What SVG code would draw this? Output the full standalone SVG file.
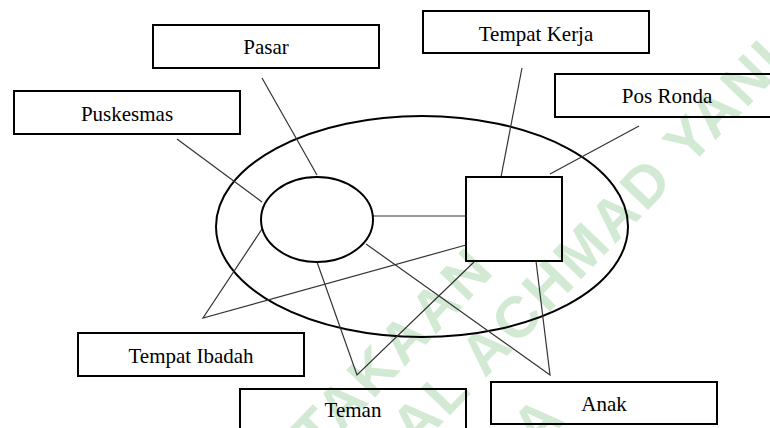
<svg xmlns="http://www.w3.org/2000/svg" width="770" height="428" viewBox="0 0 770 428">
<style>
.box{fill:none;stroke:#000;stroke-width:2}
.shape{fill:none;stroke:#000;stroke-width:2}
.lbl{font-family:"Liberation Serif","Times New Roman","DejaVu Serif",serif;font-size:21px;fill:#000;text-anchor:middle}
.ln{stroke:#333;stroke-width:1.2;fill:none}
.wm{font-family:"Liberation Sans",Arial,sans-serif;font-weight:bold;font-size:58px;fill:#d2ead4;letter-spacing:3px}
</style>
<rect width="770" height="428" fill="#fff"/>
<g id="watermark">
<text class="wm" text-anchor="end" transform="translate(497,271) rotate(-46)">PERPUSTAKAAN</text>
<text class="wm" text-anchor="end" transform="translate(790,63) rotate(-46)">JENDERAL ACHMAD YANI</text>
<text class="wm" text-anchor="end" transform="translate(568,419) rotate(-46)">A</text>
</g>
<g id="outer-ellipse"><ellipse class="shape" cx="422" cy="226.5" rx="206" ry="110.5"/></g>
<g id="connectors">
<line class="ln" x1="262" y1="78" x2="317" y2="175"/>
<line class="ln" x1="177" y1="139" x2="262" y2="202"/>
<line class="ln" x1="522" y1="68" x2="501" y2="177"/>
<line class="ln" x1="639" y1="126" x2="550" y2="174"/>
<line class="ln" x1="373" y1="216" x2="466" y2="216"/>
<polyline class="ln" points="262,229 203,318 466,245"/>
<polyline class="ln" points="317,262 357,375 474,262"/>
<polyline class="ln" points="366,244 550,375 536,261"/>
</g>
<g id="circle"><ellipse class="shape" cx="317" cy="219.5" rx="56" ry="42.5"/></g>
<g id="square"><rect class="shape" x="466" y="177" width="96" height="84"/></g>
<g id="pasar"><rect class="box" x="153" y="25" width="226" height="43"/><text class="lbl" x="266" y="54">Pasar</text></g>
<g id="puskesmas"><rect class="box" x="14" y="91" width="226" height="43"/><text class="lbl" x="127" y="121">Puskesmas</text></g>
<g id="tempat-kerja"><rect class="box" x="423" y="11" width="226" height="42"/><text class="lbl" x="536" y="41">Tempat Kerja</text></g>
<g id="pos-ronda"><rect class="box" x="555" y="74" width="222" height="43"/><text class="lbl" x="667" y="103">Pos Ronda</text></g>
<g id="tempat-ibadah"><rect class="box" x="78" y="333" width="226" height="43"/><text class="lbl" x="191" y="363">Tempat Ibadah</text></g>
<g id="teman"><rect class="box" x="240" y="389" width="226" height="45"/><text class="lbl" x="353" y="417">Teman</text></g>
<g id="anak"><rect class="box" x="491" y="382" width="226" height="42"/><text class="lbl" x="604" y="411">Anak</text></g>
</svg>
